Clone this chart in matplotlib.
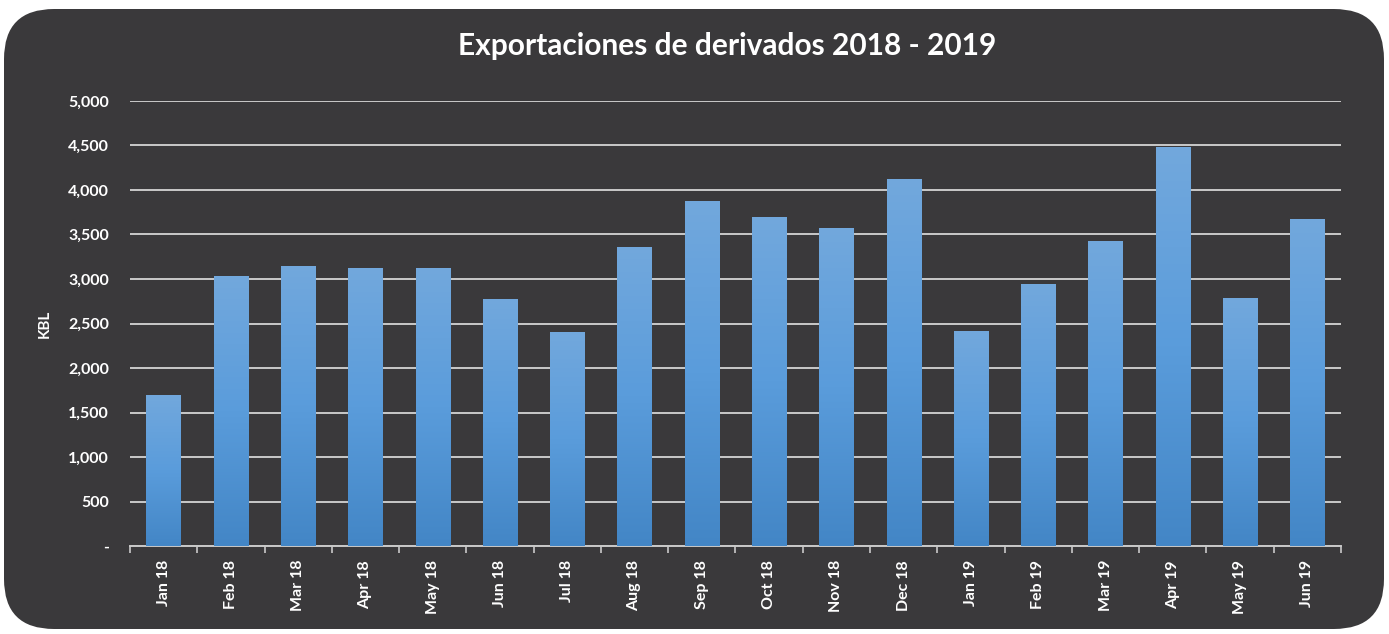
import numpy as np
import matplotlib.pyplot as plt
from matplotlib.patches import FancyBboxPatch
from matplotlib.ticker import FuncFormatter
from matplotlib.colors import LinearSegmentedColormap

months = ["Jan 18", "Feb 18", "Mar 18", "Apr 18", "May 18", "Jun 18", "Jul 18", "Aug 18", "Sep 18",
          "Oct 18", "Nov 18", "Dec 18", "Jan 19", "Feb 19", "Mar 19", "Apr 19", "May 19", "Jun 19"]
kbl = [1700, 3030, 3150, 3120, 3120, 2780, 2400, 3360, 3880,
       3700, 3570, 4120, 2420, 2940, 3430, 4480, 2790, 3670]
yticks = [0, 500, 1000, 1500, 2000, 2500, 3000, 3500, 4000, 4500, 5000]

plt.rcParams['font.family'] = ['Lato', 'DejaVu Sans']
bg = "#3a393b"

fig = plt.figure(figsize=(13.89, 6.34), dpi=100)
fig.patch.set_facecolor("white")
box = FancyBboxPatch((4/1389, 5/634), 1380/1389, 620/634,
                     boxstyle="round,pad=0,rounding_size=0.036",
                     transform=fig.transFigure, facecolor=bg, edgecolor="none",
                     mutation_aspect=1389/634, zorder=-10)
fig.patches.append(box)

ax = fig.add_axes([130/1389, 1 - 546/634, 1211/1389, 445/634])
ax.set_facecolor("none")

x = np.arange(len(months))
bars = ax.bar(x, kbl, width=0.51, color="#5a9bd9", zorder=2)

# vertical gradient inside each bar
grad = np.linspace(0, 1, 256).reshape(-1, 1)
cmap = LinearSegmentedColormap.from_list("g", ["#4386c6", "#5a9cdb", "#72a8dd"])
for b in bars:
    x0, w, h = b.get_x(), b.get_width(), b.get_height()
    im = ax.imshow(grad, cmap=cmap, aspect="auto", origin="lower",
                   extent=(x0, x0 + w, 0, h), zorder=3)
    im.set_clip_path(b)

ax.set_xlim(-0.5, len(months) - 0.5)
ax.set_ylim(0, 5000)
ax.set_yticks(yticks)
ax.yaxis.set_major_formatter(FuncFormatter(lambda v, p: "-" if v == 0 else f"{int(v):,}"))
ax.grid(axis="y", color="#c9c9c9", linewidth=1.4, zorder=1)
ax.set_axisbelow(True)

ax.set_xticks(x)
ax.set_xticklabels(months, rotation=90)
ax.set_xticks(np.arange(-0.5, len(months)), minor=True)
ax.tick_params(axis="x", which="major", length=0, pad=10, labelsize=11.5, labelcolor="white")
ax.tick_params(axis="x", which="minor", length=5, width=1.2, color="#c9c9c9")
ax.tick_params(axis="y", length=0, pad=15, labelsize=11.5, labelcolor="white")
for lab in ax.get_xticklabels() + ax.get_yticklabels():
    lab.set_fontweight("bold")

for s in ["top", "right", "left"]:
    ax.spines[s].set_visible(False)
ax.spines["bottom"].set_color("#c9c9c9")
ax.spines["bottom"].set_linewidth(1.4)

ax.set_ylabel("KBL", color="white", fontsize=11, fontweight="bold", labelpad=12)
fig.text(727/1389, 1 - 46/634, "Exportaciones de derivados 2018 - 2019", ha="center", va="center",
         color="white", fontsize=21.5, fontweight="bold")

fig.savefig("out.png", dpi=100, facecolor=fig.get_facecolor())
